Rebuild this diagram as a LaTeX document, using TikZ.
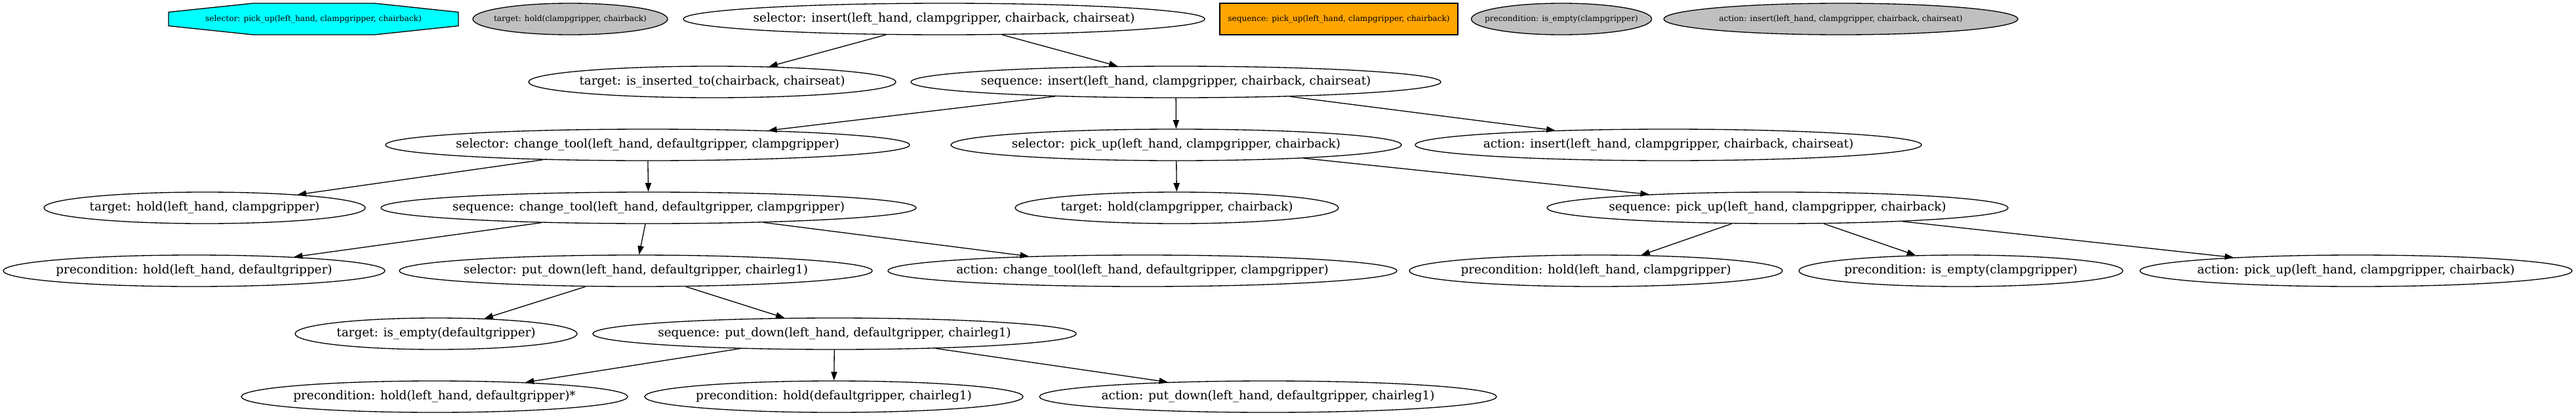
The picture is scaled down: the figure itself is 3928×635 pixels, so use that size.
\documentclass[tikz,border=0pt]{standalone}
\usepackage{fontspec}
\setmainfont{DejaVu Serif}
\usetikzlibrary{shapes.geometric,arrows.meta}
\definecolor{xgray}{HTML}{C0C0C0}
\definecolor{xcyan}{HTML}{00FFFF}
\definecolor{xorange}{HTML}{FFA500}
\newcommand\fmain{\fontsize{18.4}{22}\selectfont}
\newcommand\flegend{\fontsize{12.1}{14}\selectfont}
\newcommand\T[1]{\makebox[0pt]{#1}}
\tikzset{
  nd/.style={ellipse, draw, line width=1.33pt, minimum height=48pt, inner sep=0pt, font=\fmain, minimum width=#1},
  lg/.style={ellipse, draw, fill=xgray, line width=1.33pt, minimum height=48pt, inner sep=0pt, font=\flegend, minimum width=#1},
  lgbox/.style={rectangle, draw, fill=xorange, line width=1.33pt, minimum height=48pt, inner sep=0pt, font=\flegend, minimum width=#1},
  lgtext/.style={inner sep=0pt, font=\flegend},
  edge/.style={-{Triangle[length=13.3pt,width=9.3pt]}, line width=1.33pt}
}
\begin{document}
\begin{tikzpicture}[x=1pt,y=-1pt]
\useasboundingbox (0,0) rectangle (3928,635);
% legend
\draw[line width=1.33pt, fill=xcyan] (257,18.5) -- (386,5) -- (571,5) -- (699,18.5) -- (699,39.5) -- (571,53) -- (386,53) -- (257,39.5) -- cycle;
\node[lgtext] (leg1) at (478,29) {\T{selector: pick\_up(left\_hand, clampgripper, chairback)}};
\node[lg=297] (leg2) at (869.5,29) {\T{target: hold(clampgripper, chairback)}};
\node[lgbox=363] (leg3) at (2041.5,29) {\T{sequence: pick\_up(left\_hand, clampgripper, chairback)}};
\node[lg=275] (leg4) at (2381,29) {\T{precondition: is\_empty(clampgripper)}};
\node[lg=540] (leg5) at (2807,29) {\T{action: insert(left\_hand, clampgripper, chairback, chairseat)}};
% rank 0
\node[nd=795] (selIns) at (1439.5,29) {\T{selector: insert(left\_hand, clampgripper, chairback, chairseat)}};
% rank 1
\node[nd=560] (tgtIns) at (1086,125) {\T{target: is\_inserted\_to(chairback, chairseat)}};
\node[nd=808] (seqIns) at (1793,125) {\T{sequence: insert(left\_hand, clampgripper, chairback, chairseat)}};
% rank 2
\node[nd=799] (selCT) at (987.5,221) {\T{selector: change\_tool(left\_hand, defaultgripper, clampgripper)}};
\node[nd=687] (selPU) at (1793.5,221) {\T{selector: pick\_up(left\_hand, clampgripper, chairback)}};
\node[nd=772] (actIns) at (2544,221) {\T{action: insert(left\_hand, clampgripper, chairback, chairseat)}};
% rank 3
\node[nd=490] (tgtHoldLC) at (312,317) {\T{target: hold(left\_hand, clampgripper)}};
\node[nd=816] (seqCT) at (989,317) {\T{sequence: change\_tool(left\_hand, defaultgripper, clampgripper)}};
\node[nd=493] (tgtHoldCC) at (1794.5,317) {\T{target: hold(clampgripper, chairback)}};
\node[nd=703] (seqPU) at (2710.5,317) {\T{sequence: pick\_up(left\_hand, clampgripper, chairback)}};
% rank 4
\node[nd=582] (preHoldLD) at (296,413) {\T{precondition: hold(left\_hand, defaultgripper)}};
\node[nd=721] (selPD) at (969.5,413) {\T{selector: put\_down(left\_hand, defaultgripper, chairleg1)}};
\node[nd=776] (actCT) at (1742,413) {\T{action: change\_tool(left\_hand, defaultgripper, clampgripper)}};
\node[nd=569] (preHoldLC) at (2433.5,413) {\T{precondition: hold(left\_hand, clampgripper)}};
\node[nd=494] (preEmptyC) at (2990,413) {\T{precondition: is\_empty(clampgripper)}};
\node[nd=659] (actPU) at (3592.5,413) {\T{action: pick\_up(left\_hand, clampgripper, chairback)}};
% rank 5
\node[nd=430] (tgtEmptyD) at (665,509) {\T{target: is\_empty(defaultgripper)}};
\node[nd=737] (seqPD) at (1272.5,509) {\T{sequence: put\_down(left\_hand, defaultgripper, chairleg1)}};
% rank 6
\node[nd=589] (preHoldLDs) at (662.5,605) {\T{precondition: hold(left\_hand, defaultgripper)*}};
\node[nd=577] (preHoldDC) at (1271.5,605) {\T{precondition: hold(defaultgripper, chairleg1)}};
\node[nd=697] (actPD) at (1933.5,605) {\T{action: put\_down(left\_hand, defaultgripper, chairleg1)}};
% edges
\draw[edge] (selIns) -- (tgtIns);
\draw[edge] (selIns) -- (seqIns);
\draw[edge] (seqIns) -- (selCT);
\draw[edge] (seqIns) -- (selPU);
\draw[edge] (seqIns) -- (actIns);
\draw[edge] (selCT) -- (tgtHoldLC);
\draw[edge] (selCT) -- (seqCT);
\draw[edge] (selPU) -- (tgtHoldCC);
\draw[edge] (selPU) -- (seqPU);
\draw[edge] (seqCT) -- (preHoldLD);
\draw[edge] (seqCT) -- (selPD);
\draw[edge] (seqCT) -- (actCT);
\draw[edge] (seqPU) -- (preHoldLC);
\draw[edge] (seqPU) -- (preEmptyC);
\draw[edge] (seqPU) -- (actPU);
\draw[edge] (selPD) -- (tgtEmptyD);
\draw[edge] (selPD) -- (seqPD);
\draw[edge] (seqPD) -- (preHoldLDs);
\draw[edge] (seqPD) -- (preHoldDC);
\draw[edge] (seqPD) -- (actPD);
\end{tikzpicture}
\end{document}
